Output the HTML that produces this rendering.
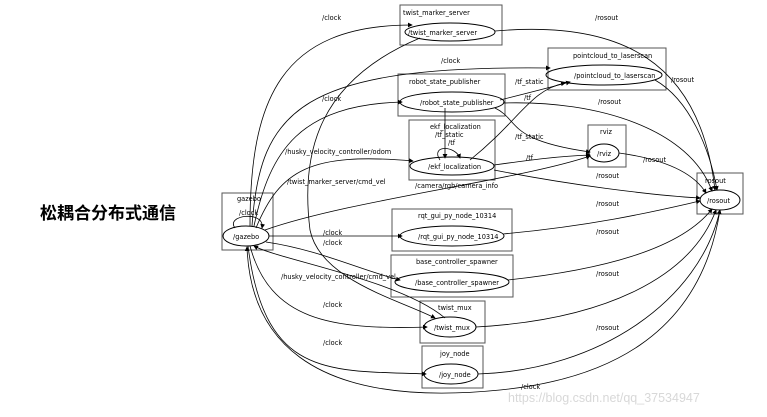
<!DOCTYPE html>
<html><head><meta charset="utf-8"><style>
html,body{margin:0;padding:0;background:#fff;width:767px;height:417px;overflow:hidden}
svg{display:block}
text{font-family:"DejaVu Sans","Liberation Sans",sans-serif;font-size:6.6px;fill:#000}
.t{font-family:"Liberation Sans","Noto Sans CJK SC",sans-serif;font-size:17px;font-weight:bold}
</style></head><body>
<svg width="767" height="417" viewBox="0 0 767 417" xmlns="http://www.w3.org/2000/svg">
<defs><marker id="a" markerWidth="6" markerHeight="6" refX="5" refY="3" orient="auto"><path d="M0,0 L6,3 L0,6z" fill="#000"/></marker></defs>
<text class="t" x="40" y="219">松耦合分布式通信</text>
<g fill="none" stroke="#555" stroke-width="1">
<rect x="400" y="5" width="102" height="40"/>
<rect x="548" y="48" width="118" height="42"/>
<rect x="398" y="74" width="107" height="42"/>
<rect x="409" y="120" width="86" height="60"/>
<rect x="588" y="125" width="38" height="42"/>
<rect x="697" y="173" width="46" height="41"/>
<rect x="222" y="193" width="51" height="57"/>
<rect x="392" y="209" width="120" height="42"/>
<rect x="391" y="255" width="122" height="42"/>
<rect x="420" y="301" width="65" height="42"/>
<rect x="422" y="346" width="61" height="42"/>
</g>
<g fill="none" stroke="#000" stroke-width="1">
<ellipse cx="450" cy="32" rx="45" ry="9"/>
<ellipse cx="604" cy="75" rx="58" ry="10"/>
<ellipse cx="452" cy="102" rx="52" ry="10"/>
<ellipse cx="452" cy="166" rx="42" ry="9"/>
<ellipse cx="604" cy="153" rx="15" ry="9"/>
<ellipse cx="720" cy="200" rx="20" ry="10"/>
<ellipse cx="246" cy="236" rx="23" ry="10"/>
<ellipse cx="452" cy="236" rx="52" ry="10"/>
<ellipse cx="452" cy="282" rx="57" ry="10"/>
<ellipse cx="450" cy="327" rx="26" ry="10"/>
<ellipse cx="451" cy="374" rx="27" ry="10"/>
</g>
<g fill="none" stroke="#000" stroke-width="0.8" marker-end="url(#a)">
<path d="M250,226 C250,100 280,25 412,25"/>
<path d="M252,226 C260,110 300,65 550,68"/>
<path d="M254,226 C270,150 300,105 402,102"/>
<path d="M256,228 C280,170 310,152 413,161"/>
<path d="M269,236 L402,236"/>
<path d="M266,242 C320,250 360,270 400,280"/>
<path d="M250,246 C270,320 330,330 427,327"/>
<path d="M248,246 C265,380 330,370 426,374"/>
<path d="M235,228 C225,215 265,210 262,228"/>
<path d="M420,38 C320,80 300,150 310,230 C320,280 400,300 435,318"/>
<path d="M445,318 C400,280 280,260 254,246"/>
<path d="M445,108 L445,158"/>
<path d="M440,160 C430,145 455,145 460,158"/>
<path d="M500,100 C520,95 540,90 570,82"/>
<path d="M470,160 C520,120 530,90 565,83"/>
<path d="M495,108 C520,120 505,140 590,152"/>
<path d="M494,165 C530,160 560,156 590,155"/>
<path d="M265,230 C350,200 520,180 590,156"/>
<path d="M495,31 C620,20 700,60 715,190"/>
<path d="M655,80 C690,100 710,150 717,190"/>
<path d="M503,103 C600,100 690,130 712,191"/>
<path d="M619,153 C670,160 695,175 706,193"/>
<path d="M494,170 C570,185 650,195 700,198"/>
<path d="M503,234 C600,225 660,210 700,201"/>
<path d="M508,280 C600,270 680,250 712,209"/>
<path d="M476,327 C600,320 690,280 716,210"/>
<path d="M478,374 C600,370 700,300 720,210"/>
<path d="M720,210 C700,340 600,380 500,390 C300,410 250,330 247,247"/>
</g>
<g>
<text x="322" y="20">/clock</text>
<text x="403" y="15">twist_marker_server</text>
<text x="408" y="35">/twist_marker_server</text>
<text x="595" y="20">/rosout</text>
<text x="441" y="63">/clock</text>
<text x="573" y="58">pointcloud_to_laserscan</text>
<text x="574" y="78">/pointcloud_to_laserscan</text>
<text x="671" y="82">/rosout</text>
<text x="322" y="101">/clock</text>
<text x="409" y="84">robot_state_publisher</text>
<text x="420" y="105">/robot_state_publisher</text>
<text x="515" y="84">/tf_static</text>
<text x="524" y="100">/tf</text>
<text x="598" y="104">/rosout</text>
<text x="430" y="129">ekf_localization</text>
<text x="435" y="137">/tf_static</text>
<text x="448" y="145">/tf</text>
<text x="428" y="169">/ekf_localization</text>
<text x="515" y="139">/tf_static</text>
<text x="526" y="160">/tf</text>
<text x="600" y="134">rviz</text>
<text x="597" y="156">/rviz</text>
<text x="643" y="162">/rosout</text>
<text x="285" y="154">/husky_velocity_controller/odom</text>
<text x="287" y="184">/twist_marker_server/cmd_vel</text>
<text x="415" y="188">/camera/rgb/camera_info</text>
<text x="596" y="178">/rosout</text>
<text x="705" y="183">rosout</text>
<text x="707" y="203">/rosout</text>
<text x="237" y="201">gazebo</text>
<text x="239" y="215">/clock</text>
<text x="233" y="239">/gazebo</text>
<text x="596" y="206">/rosout</text>
<text x="323" y="235">/clock</text>
<text x="323" y="245">/clock</text>
<text x="418" y="218">rqt_gui_py_node_10314</text>
<text x="418" y="239">/rqt_gui_py_node_10314</text>
<text x="596" y="234">/rosout</text>
<text x="416" y="264">base_controller_spawner</text>
<text x="415" y="285">/base_controller_spawner</text>
<text x="281" y="279">/husky_velocity_controller/cmd_vel</text>
<text x="596" y="276">/rosout</text>
<text x="323" y="307">/clock</text>
<text x="438" y="310">twist_mux</text>
<text x="434" y="330">/twist_mux</text>
<text x="596" y="330">/rosout</text>
<text x="323" y="345">/clock</text>
<text x="440" y="356">joy_node</text>
<text x="439" y="377">/joy_node</text>
<text x="521" y="389">/clock</text>
<text x="508" y="402" style="font-size:12.5px;fill:#d8d8d8;font-family:'Liberation Sans',sans-serif">https://blog.csdn.net/qq_37534947</text>
</g>
</svg>
</body></html>
